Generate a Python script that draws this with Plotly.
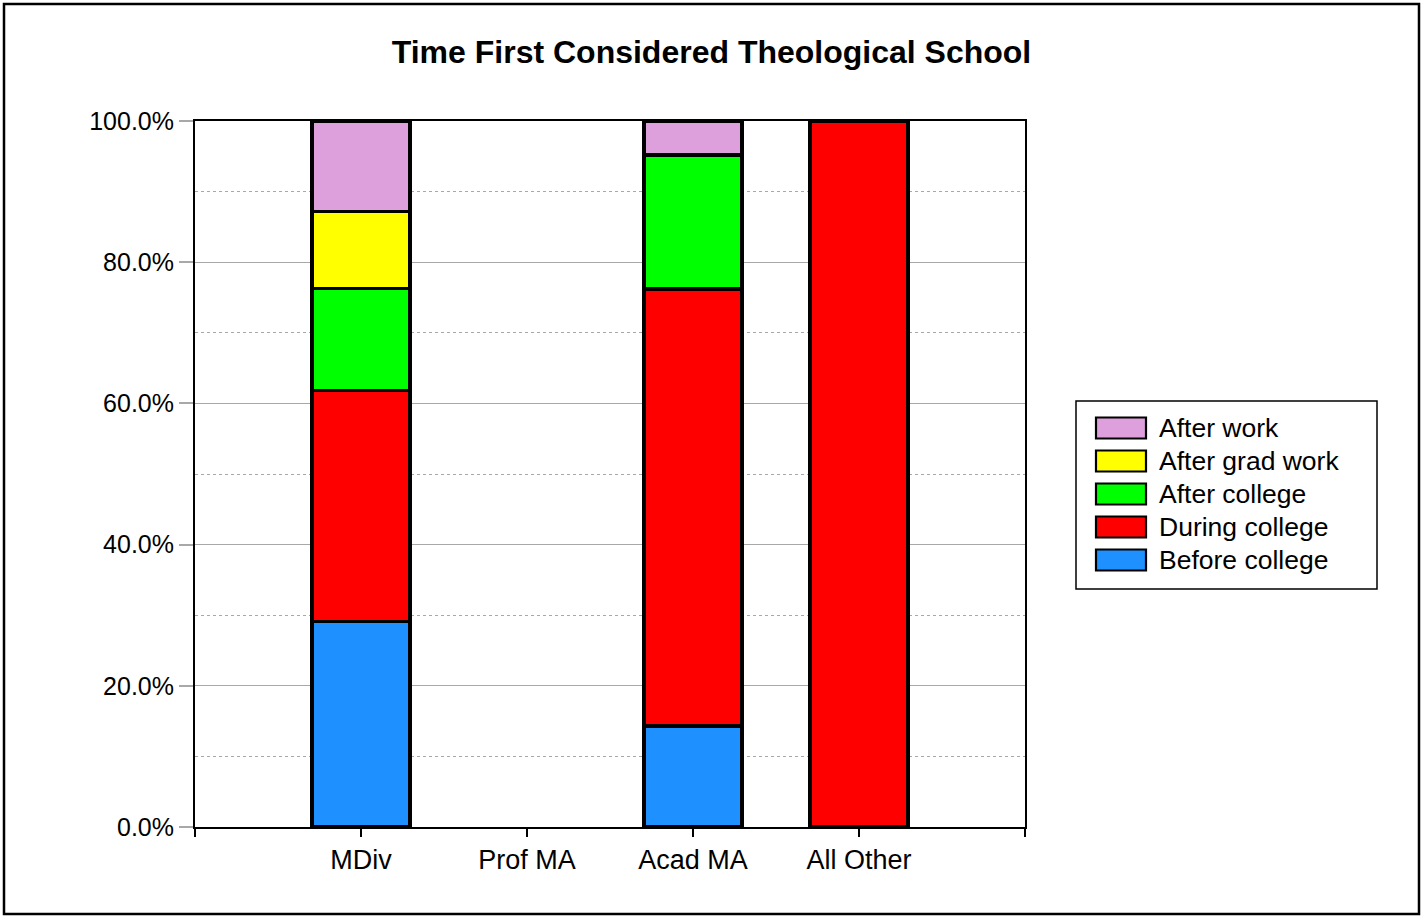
import plotly.graph_objects as go

# ---- data ----
programs = ["MDiv", "Prof MA", "Acad MA", "All Other"]
series_names = ["Before college", "During college", "After college", "After grad work", "After work"]
before_college = [29.1, None, 14.3, None]
during_college = [32.7, None, 61.9, 100.0]
after_college = [14.5, None, 19.0, None]
after_grad_work = [10.9, None, None, None]
after_work = [12.7, None, 4.8, None]
series_values = [before_college, during_college, after_college, after_grad_work, after_work]
series_colors = ["#1E90FF", "#FF0000", "#00FF00", "#FFFF00", "#DDA0DD"]
y_ticks = [0, 20, 40, 60, 80, 100]
y_tick_labels = [f"{v:.1f}%" for v in y_ticks]

# ---- canvas geometry ----
W, H = 1423, 917
ML, MR, MT, MB = 195, 398, 121, 90
PW, PH = W - ML - MR, H - MT - MB
FONT = "Liberation Sans, Arial, sans-serif"


def px_x(px):
    return (px - ML) / PW


def px_y(py):
    return (H - MB - py) / PH


fig = go.Figure()
xpos = list(range(len(programs)))
for name, vals, color in zip(series_names, series_values, series_colors):
    fig.add_trace(go.Bar(
        x=xpos, y=vals, name=name, width=0.59,
        marker=dict(color=color, line=dict(color="black", width=3.4)),
        showlegend=False,
    ))

shapes = []
annotations = []

# outer frame around the whole chart
shapes.append(dict(type="rect", xref="paper", yref="paper",
                   x0=px_x(4), x1=px_x(1419), y0=px_y(914), y1=px_y(4),
                   line=dict(color="black", width=2.5), layer="below"))

# custom legend box, top entry is the top segment of the stack
lx0, lx1, ly0, ly1 = 1076, 1377, 401, 589
shapes.append(dict(type="rect", xref="paper", yref="paper",
                   x0=px_x(lx0), x1=px_x(lx1), y0=px_y(ly1), y1=px_y(ly0),
                   line=dict(color="black", width=1.5), fillcolor="white"))
row_h = 33
first_center = 428
for i, (name, color) in enumerate(zip(series_names[::-1], series_colors[::-1])):
    cy = first_center + i * row_h
    shapes.append(dict(type="rect", xref="paper", yref="paper",
                       x0=px_x(1096), x1=px_x(1146), y0=px_y(cy + 10.5), y1=px_y(cy - 10.5),
                       line=dict(color="black", width=2.2), fillcolor=color))
    annotations.append(dict(xref="paper", yref="paper", x=px_x(1157), y=px_y(cy),
                            text=name, showarrow=False, xanchor="left", yanchor="middle",
                            font=dict(family=FONT, size=26.5, color="black")))

fig.update_layout(
    width=W, height=H,
    margin=dict(l=ML, r=MR, t=MT, b=MB),
    paper_bgcolor="white", plot_bgcolor="white",
    barmode="stack",
    title=dict(text="<b>Time First Considered Theological School</b>",
               x=0.5, xref="container", xanchor="center",
               y=1 - 52 / H, yref="container", yanchor="middle",
               font=dict(family=FONT, size=32, color="black")),
    font=dict(family=FONT, size=25, color="black"),
    xaxis=dict(
        range=[-1, 4],
        tickvals=[-1] + xpos + [4],
        ticktext=[""] + programs + [""],
        ticks="outside", ticklen=8, tickwidth=2, tickcolor="black",
        showline=True, linecolor="black", linewidth=2, mirror=True,
        showgrid=False, zeroline=False,
        tickfont=dict(family=FONT, size=27, color="black"),
    ),
    yaxis=dict(
        range=[0, 100],
        tickvals=y_ticks, ticktext=y_tick_labels,
        ticks="outside", ticklen=14, tickwidth=2, tickcolor="#A8A8A8",
        showline=True, linecolor="black", linewidth=2, mirror=True,
        showgrid=True, gridcolor="#A8A8A8", gridwidth=1.2,
        zeroline=False,
        minor=dict(dtick=10, showgrid=True, gridcolor="#A8A8A8",
                   griddash="dot", gridwidth=1.2, ticks=""),
        tickfont=dict(family=FONT, size=25, color="black"),
    ),
    shapes=shapes,
    annotations=annotations,
)

fig.write_html("out.html")
